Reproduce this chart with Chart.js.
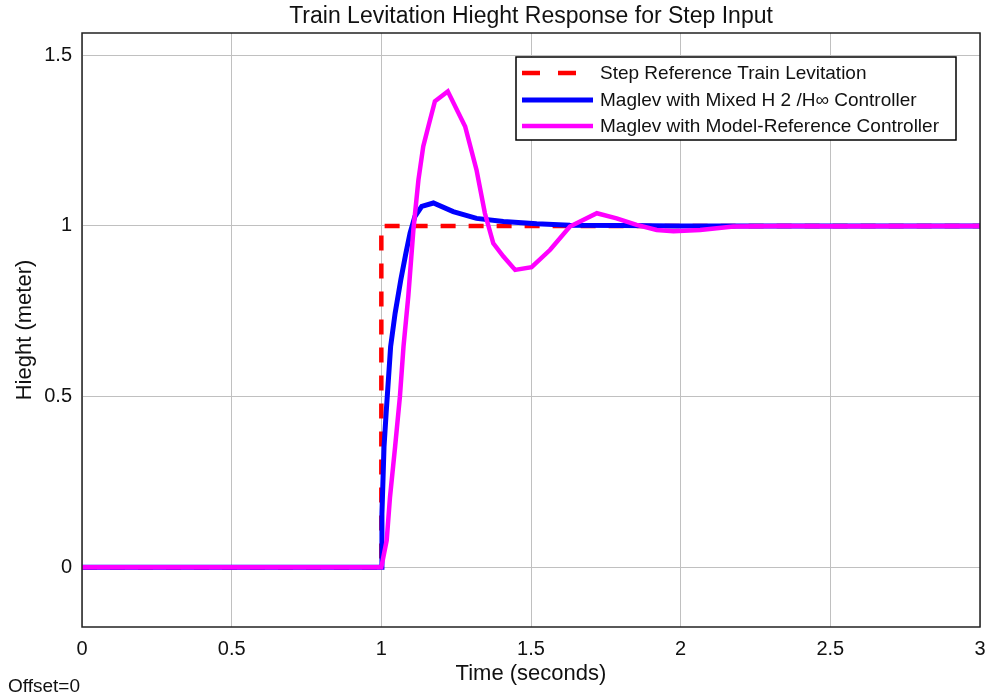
<!DOCTYPE html>
<html>
<head>
<meta charset="utf-8">
<script src="https://cdn.jsdelivr.net/npm/chart.js@4.4.1/dist/chart.umd.min.js"></script>
<style>
  html, body { margin: 0; padding: 0; background: #fff; }
  #wrap { width: 987px; height: 698px; }
</style>
</head>
<body>
<div id="wrap"><canvas id="graph" width="987" height="698"></canvas></div>
<script>
// step reference
const stepTime = [0, 1, 1, 3];
const stepHeight = [0, 0, 1, 1];

// mixed H2/Hinf controller response
const h2Time = [0, 1.0, 1.002, 1.009, 1.016, 1.031, 1.046, 1.065, 1.082, 1.096, 1.112, 1.135, 1.174, 1.24, 1.318, 1.408, 1.519, 1.63, 1.8, 2.0, 3.0];
const h2Height = [0, 0, 0.157, 0.353, 0.451, 0.646, 0.744, 0.842, 0.92, 0.979, 1.027, 1.057, 1.067, 1.042, 1.022, 1.013, 1.006, 1.002, 1.001, 1.0, 1.0];

// model-reference controller response
const mrTime = [0, 1.0, 1.018, 1.029, 1.046, 1.062, 1.074, 1.09, 1.107, 1.124, 1.14, 1.157, 1.179, 1.222, 1.28, 1.318, 1.346, 1.374, 1.408, 1.447, 1.502, 1.564, 1.63, 1.72, 1.786, 1.853, 1.92, 1.976, 2.065, 2.176, 2.34, 2.5, 3.0];
const mrHeight = [0, 0, 0.079, 0.206, 0.353, 0.499, 0.646, 0.793, 0.988, 1.135, 1.233, 1.291, 1.365, 1.394, 1.291, 1.164, 1.037, 0.949, 0.91, 0.871, 0.879, 0.93, 0.998, 1.037, 1.022, 1.003, 0.988, 0.984, 0.988, 0.998, 1.0, 0.999, 1.0];

const labels = [
    'Step Reference Train Levitation',
    'Maglev with Mixed H 2 /H\u221E Controller',
    'Maglev with Model-Reference Controller'
];
const colors = ['#ff0000', '#0000ff', '#ff00ff'];

const FONT = "'Liberation Sans', Arial, Helvetica, sans-serif";

function toPoints(xs, ys) {
    return xs.map((x, i) => ({x: x, y: ys[i]}));
}

// frame, legend box and offset note
const extras = {
    id: 'extras',
    afterDraw(chart) {
        const ctx = chart.ctx;
        const a = chart.chartArea;
        ctx.save();
        ctx.strokeStyle = '#222';
        ctx.lineWidth = 1.5;
        ctx.strokeRect(a.left, a.top, a.right - a.left, a.bottom - a.top);

        // legend
        const lx = 516, ly = 57, lw = 440, lh = 83;
        ctx.fillStyle = '#fff';
        ctx.fillRect(lx, ly, lw, lh);
        ctx.strokeStyle = '#000';
        ctx.lineWidth = 1.5;
        ctx.strokeRect(lx, ly, lw, lh);
        const rows = [73, 100, 126];
        chart.data.datasets.forEach((ds, i) => {
            ctx.beginPath();
            ctx.strokeStyle = ds.borderColor;
            ctx.lineWidth = ds.borderWidth;
            ctx.setLineDash(i === 0 ? [18, 18] : []);
            ctx.moveTo(522, rows[i]);
            ctx.lineTo(593, rows[i]);
            ctx.stroke();
            ctx.setLineDash([]);
            ctx.fillStyle = '#111';
            ctx.font = '19px ' + FONT;
            ctx.textBaseline = 'middle';
            ctx.fillText(ds.label, 600, rows[i] + 1);
        });

        ctx.fillStyle = '#111';
        ctx.font = '19px ' + FONT;
        ctx.textBaseline = 'alphabetic';
        ctx.fillText('Offset=0', 8, 692);
        ctx.restore();
    }
};

const keepHalf = axis => {
    axis.ticks = axis.ticks.filter(t => Math.abs(t.value * 2 - Math.round(t.value * 2)) < 1e-6);
};
const fmt = v => String(Number(v.toFixed(2)));

const graph = document.getElementById('graph');
const chart = new Chart(graph, {
    type: 'scatter',
    data: {
        datasets: [
            {
                label: labels[0],
                data: toPoints(stepTime, stepHeight),
                showLine: true,
                borderColor: colors[0],
                borderWidth: 4.5,
                borderDash: [15, 13],
                pointRadius: 0,
                order: 3
            },
            {
                label: labels[1],
                data: toPoints(h2Time, h2Height),
                showLine: true,
                borderColor: colors[1],
                borderWidth: 5,
                pointRadius: 0,
                order: 2
            },
            {
                label: labels[2],
                data: toPoints(mrTime, mrHeight),
                showLine: true,
                borderColor: colors[2],
                borderWidth: 4.5,
                pointRadius: 0,
                order: 1
            }
        ]
    },
    options: {
        responsive: false,
        animation: false,
        layout: {autoPadding: false, padding: {left: 0, right: 7, top: 0, bottom: 0}},
        plugins: {
            legend: {display: false},
            tooltip: {enabled: false},
            title: {
                display: true,
                text: 'Train Levitation Hieght Response for Step Input',
                fullSize: false,
                color: '#111',
                font: {family: FONT, size: 23, weight: 'normal'},
                padding: {top: 3.2, bottom: 2.2}
            }
        },
        scales: {
            x: {
                type: 'linear',
                min: 0,
                max: 3,
                ticks: {
                    stepSize: 0.5,
                    includeBounds: false,
                    color: '#111',
                    padding: 10,
                    font: {family: FONT, size: 20},
                    callback: fmt
                },
                grid: {color: '#c0c0c0', drawTicks: false},
                border: {display: false},
                title: {
                    display: true,
                    text: 'Time (seconds)',
                    color: '#111',
                    font: {family: FONT, size: 22},
                    padding: {top: 0, bottom: 11}
                },
                afterFit: s => { s.height = 71; s.paddingLeft = 0; s.paddingRight = 0; }
            },
            y: {
                type: 'linear',
                min: -0.175,
                max: 1.565,
                ticks: {
                    stepSize: 0.5,
                    includeBounds: false,
                    color: '#111',
                    padding: 10,
                    font: {family: FONT, size: 20},
                    callback: fmt
                },
                afterBuildTicks: keepHalf,
                grid: {color: '#c0c0c0', drawTicks: false},
                border: {display: false},
                title: {
                    display: true,
                    text: 'Hieght (meter)',
                    color: '#111',
                    font: {family: FONT, size: 22},
                    padding: {top: 12, bottom: 0}
                },
                afterFit: s => { s.width = 82; s.paddingTop = 0; s.paddingBottom = 0; }
            }
        }
    },
    plugins: [extras]
});
</script>
</body>
</html>
